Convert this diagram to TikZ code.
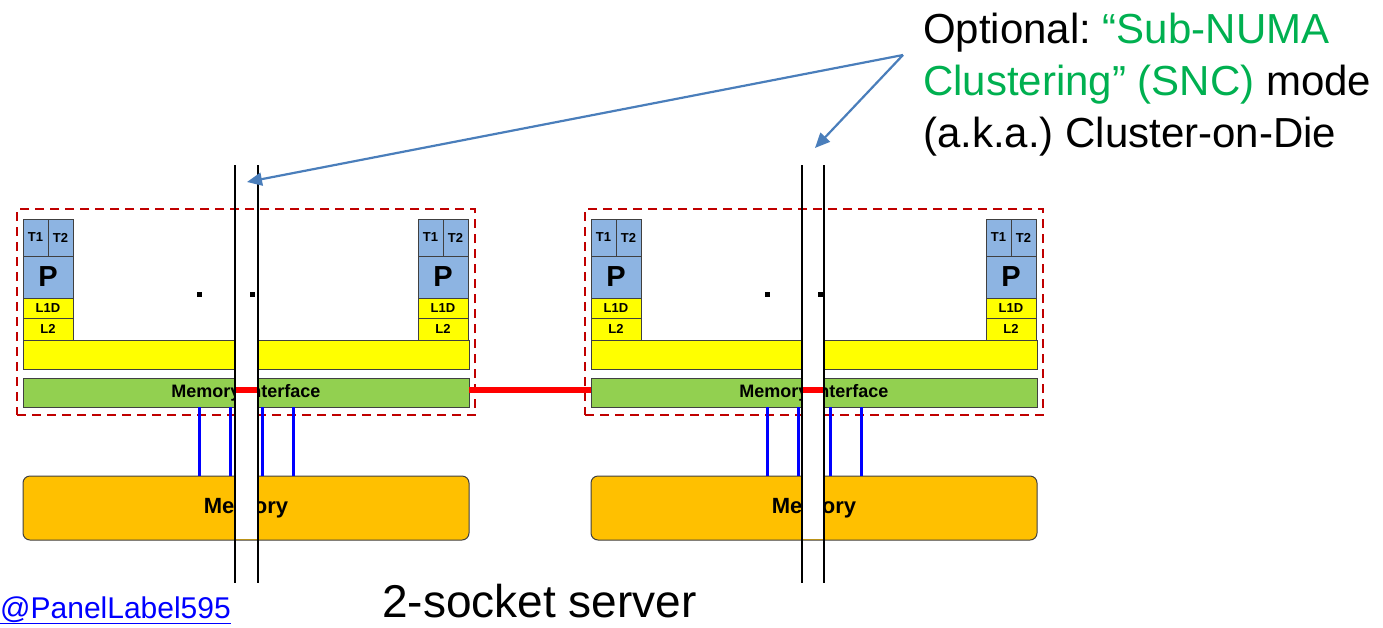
\documentclass[tikz,border=0pt]{standalone}
\usepackage{fontspec}
\setmainfont{Liberation Sans}
\usetikzlibrary{arrows.meta}
\definecolor{cpublue}{HTML}{8DB4E2}
\definecolor{cacheyel}{HTML}{FFFF00}
\definecolor{migreen}{HTML}{92D050}
\definecolor{memorange}{HTML}{FFC000}
\definecolor{dashred}{HTML}{C00000}
\definecolor{linkred}{HTML}{FF0000}
\definecolor{busblue}{HTML}{0000FF}
\definecolor{callblue}{HTML}{4A7EBB}
\definecolor{sncgreen}{HTML}{00B050}
\definecolor{edge}{HTML}{404040}
\frenchspacing
\tikzset{
  blk/.style={draw=edge, line width=1pt, inner sep=0pt, outer sep=0pt, anchor=north west},
  cpu/.style={blk, fill=cpublue},
  cache/.style={blk, fill=cacheyel},
  tfont/.style={font=\bfseries\fontsize{13}{13}\selectfont},
  pfont/.style={font=\bfseries\fontsize{29}{29}\selectfont},
  cfont/.style={font=\bfseries\fontsize{13}{13}\selectfont},
  mifont/.style={font=\bfseries\fontsize{18}{18}\selectfont},
  memfont/.style={font=\bfseries\fontsize{22}{22}\selectfont},
  socketbox/.style={draw=dashred, line width=2.5pt, dash pattern=on 9pt off 6pt, inner sep=0pt, outer sep=0pt, anchor=north west},
  bus/.style={draw=busblue, line width=3pt},
  qpi/.style={draw=linkred, line width=6pt},
  divider/.style={draw=black, line width=2pt},
  callout/.style={draw=callblue, line width=2.2pt, -{Triangle[length=15pt, width=13pt]}},
  core/.pic={
    \node[cpu, tfont, minimum width=25, minimum height=37] (-t1) at (0,0) {T1};
    \node[cpu, tfont, minimum width=25, minimum height=37] (-t2) at (25,0) {T2};
    \node[cpu, pfont, minimum width=50, minimum height=42] (-p) at (0,37) {P};
    \node[cache, cfont, minimum width=50, minimum height=20] (-l1) at (0,79) {L1D};
    \node[cache, cfont, minimum width=50, minimum height=22] (-l2) at (0,99) {L2};
  }
}
\begin{document}
\begin{tikzpicture}[x=1pt, y=-1pt]
\useasboundingbox (0,0) rectangle (1383,627);

% ---- sockets
\foreach \s/\dx in {L/0, R/568} {
  \node[socketbox, minimum width=458, minimum height=206] (sock\s) at (17+\dx,209) {};
  \pic (c1\s) at (23+\dx,219) {core};
  \pic (c2\s) at (418+\dx,219) {core};
  \node[cache, minimum width=446, minimum height=29] (llc\s) at (23+\dx,340) {};
  \node[blk, fill=migreen, mifont, minimum width=446, minimum height=29] (mi\s) at (23+\dx,378) {Memory Interface};
  \node[blk, fill=memorange, memfont, rounded corners=7pt, minimum width=446, minimum height=64] (mem\s) at (23+\dx,476) {\raisebox{-2pt}{Memory}};
  \foreach \bx in {176,207,239,270}
    \draw[bus] ([xshift=\bx pt]mi\s.south west) -- ([xshift=\bx pt]mem\s.north west);
  \fill (196.5+\dx,291.5) rectangle (201.5+\dx,296.5);
  \fill (249.5+\dx,291.5) rectangle (254.5+\dx,296.5);
}

% ---- inter-socket link
\draw[qpi] ([yshift=3pt]miL.east) -- ([yshift=3pt]miR.west);

% ---- SNC dividers
\foreach \n/\xa/\xb in {L/235/258, R/802/824} {
  \coordinate (d\n a) at (\xa,165);
  \coordinate (d\n b) at (\xb,165);
  \coordinate (d\n c) at (\xa,583);
  \coordinate (d\n d) at (\xb,583);
  \fill[white] (\xa,339) rectangle (\xb,539);
  \draw[qpi] (\xa,389.5) -- (\xb,389.5);
  \draw[divider] (d\n a) -- (d\n c);
  \draw[divider] (d\n b) -- (d\n d);
}

% ---- callout
\coordinate (src) at (903,55);
\coordinate (tipL) at (247,182);
\coordinate (tipR) at (815,148);
\draw[callout] (src) -- (tipL);
\draw[callout] (src) -- (tipR);
\node[anchor=north west, align=left, inner sep=0pt,
      font=\fontsize{42}{52}\selectfont] (note) at (923,13)
  {Optional: \textcolor{sncgreen}{“Sub-NUMA}\\
   \textcolor{sncgreen}{Clustering” (SNC)} mode\\
   (a.k.a.) Cluster-on-Die};

% ---- bottom labels
\node[anchor=base west, inner sep=0pt, text=busblue,
      font=\fontsize{30}{30}\selectfont] (panel) at (0,618) {\underline{@PanelLabel595}};
\node[anchor=base west, inner sep=0pt,
      font=\fontsize{46}{46}\selectfont] (title) at (382,617) {2-socket server};
\end{tikzpicture}
\end{document}
